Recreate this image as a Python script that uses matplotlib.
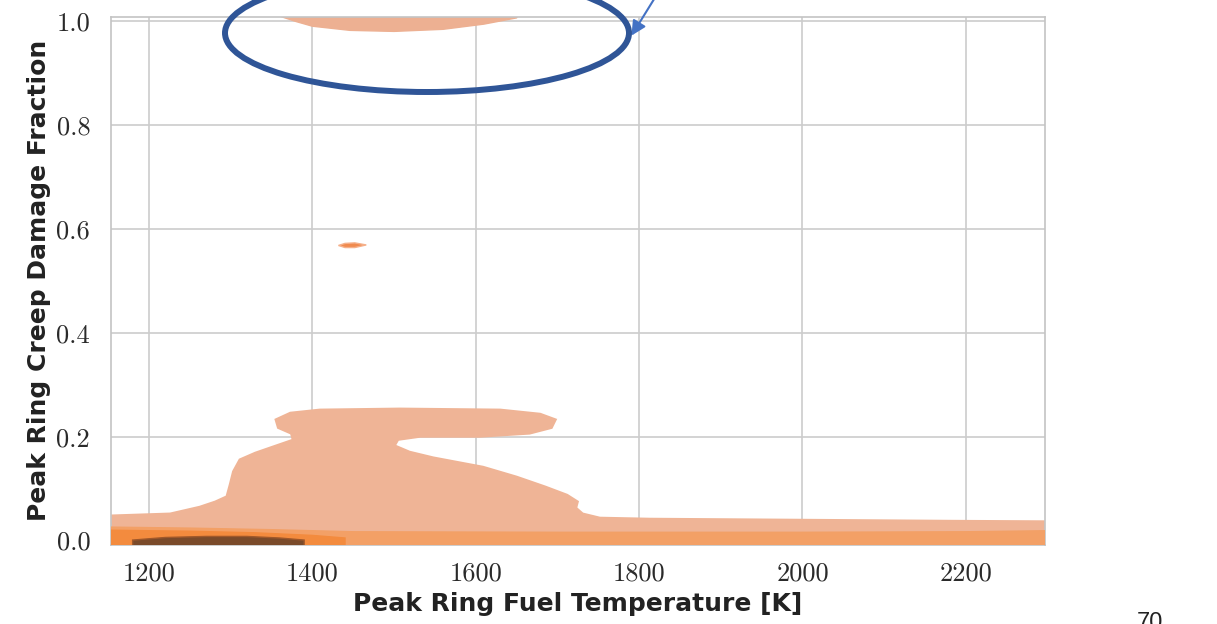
import matplotlib.pyplot as plt
from matplotlib.patches import Ellipse, FancyArrowPatch

# outline of the main density region (temperature K, damage fraction)
main_x = [1150, 1150, 1226, 1262, 1281, 1295, 1299, 1303, 1311, 1330, 1352, 1376,
          1374, 1358, 1355, 1373, 1409, 1507, 1630, 1679, 1698, 1693, 1666, 1605,
          1532, 1505, 1501, 1519, 1548, 1609, 1650, 1685, 1712, 1725, 1723, 1731,
          1752, 1813, 1997, 2180, 2300, 2300]
main_y = [-0.02, 0.048, 0.052, 0.065, 0.075, 0.085, 0.108, 0.133, 0.156, 0.169, 0.181, 0.194,
          0.206, 0.217, 0.233, 0.246, 0.252, 0.254, 0.252, 0.244, 0.233, 0.217, 0.206, 0.200,
          0.200, 0.194, 0.183, 0.171, 0.160, 0.142, 0.123, 0.104, 0.088, 0.075, 0.063, 0.052,
          0.044, 0.042, 0.040, 0.038, 0.037, -0.02]

# higher density strip along zero damage
strip_x = [1150, 1150, 1250, 1350, 1450, 1700, 2000, 2200, 2300, 2300]
strip_y = [-0.02, 0.026, 0.024, 0.021, 0.017, 0.016, 0.016, 0.017, 0.019, -0.02]

core_x = [1150, 1150, 1250, 1330, 1400, 1440, 1440]
core_y = [-0.02, 0.020, 0.018, 0.015, 0.010, 0.005, -0.02]

dark_x = [1180, 1220, 1270, 1320, 1360, 1390, 1390, 1180]
dark_y = [0.001, 0.006, 0.008, 0.008, 0.005, 0.001, -0.02, -0.02]

# cluster at full damage
top_x = [1355, 1380, 1400, 1446, 1500, 1560, 1610, 1650, 1660, 1350]
top_y = [1.012, 0.999, 0.990, 0.982, 0.980, 0.984, 0.994, 1.006, 1.03, 1.03]

# small isolated cluster
spot_x = [1432, 1440, 1452, 1466, 1452, 1440]
spot_y = [0.568, 0.572, 0.573, 0.569, 0.564, 0.564]

x_ticks = [1200, 1400, 1600, 1800, 2000, 2200]
y_ticks = [0.0, 0.2, 0.4, 0.6, 0.8, 1.0]

fig = plt.figure(figsize=(12.17, 6.24), dpi=100)
ax = fig.add_axes([0.0912, 0.127, 0.7675, 0.846])

ax.fill(main_x, main_y, color='#efb496', lw=1.5, ec='#efb496', zorder=2)
ax.fill(strip_x, strip_y, color='#f3a066', lw=1, ec='#f3a066', zorder=3)
ax.fill(core_x, core_y, color='#f38b3e', lw=1, ec='#f38b3e', zorder=4)
ax.fill(dark_x, dark_y, color='#7a4a2a', lw=1, ec='#a0582a', zorder=5)
ax.fill(top_x, top_y, color='#edb092', lw=1, ec='#edb092', zorder=2)
ax.fill(spot_x, spot_y, color='#f08a4e', lw=1, ec='#f5b08a', zorder=2)

ax.set_xlim(1153.5, 2297)
ax.set_ylim(-0.008, 1.008)
ax.set_xticks(x_ticks)
ax.set_yticks(y_ticks)
ax.set_yticklabels([f'{v:.1f}' for v in y_ticks])
ax.grid(True, color='#cccccc', lw=1.2, zorder=1)
ax.set_axisbelow(True)
for s in ax.spines.values():
    s.set_color('#c4c4c4')
    s.set_linewidth(1.2)
ax.tick_params(length=0, labelsize=19, labelcolor='#2a2a2a')
ax.tick_params(axis='x', pad=12)
ax.tick_params(axis='y', pad=15)
for lab in ax.get_xticklabels() + ax.get_yticklabels():
    lab.set_fontfamily('cmr10')

ax.set_xlabel('Peak Ring Fuel Temperature [K]', fontsize=18, fontweight='bold',
              color='#222222', labelpad=5)
ax.set_ylabel('Peak Ring Creep Damage Fraction', fontsize=18, fontweight='bold',
              color='#222222', labelpad=4)

# annotation marks on the slide
ell = Ellipse((4.27, 5.91), 4.04, 1.18, transform=fig.dpi_scale_trans,
              fill=False, ec='#2f5597', lw=4.3, zorder=10)
fig.add_artist(ell)
arr = FancyArrowPatch((6.56, 6.28), (6.30, 5.86), transform=fig.dpi_scale_trans,
                      arrowstyle='-|>', mutation_scale=22, color='#4472c4', lw=1.5)
fig.add_artist(arr)

fig.text(1150 / 1217, 12 / 624, '70', ha='center', va='top', fontsize=17,
         family='Liberation Sans', color='#222222')

fig.savefig('out.png', dpi=100)
